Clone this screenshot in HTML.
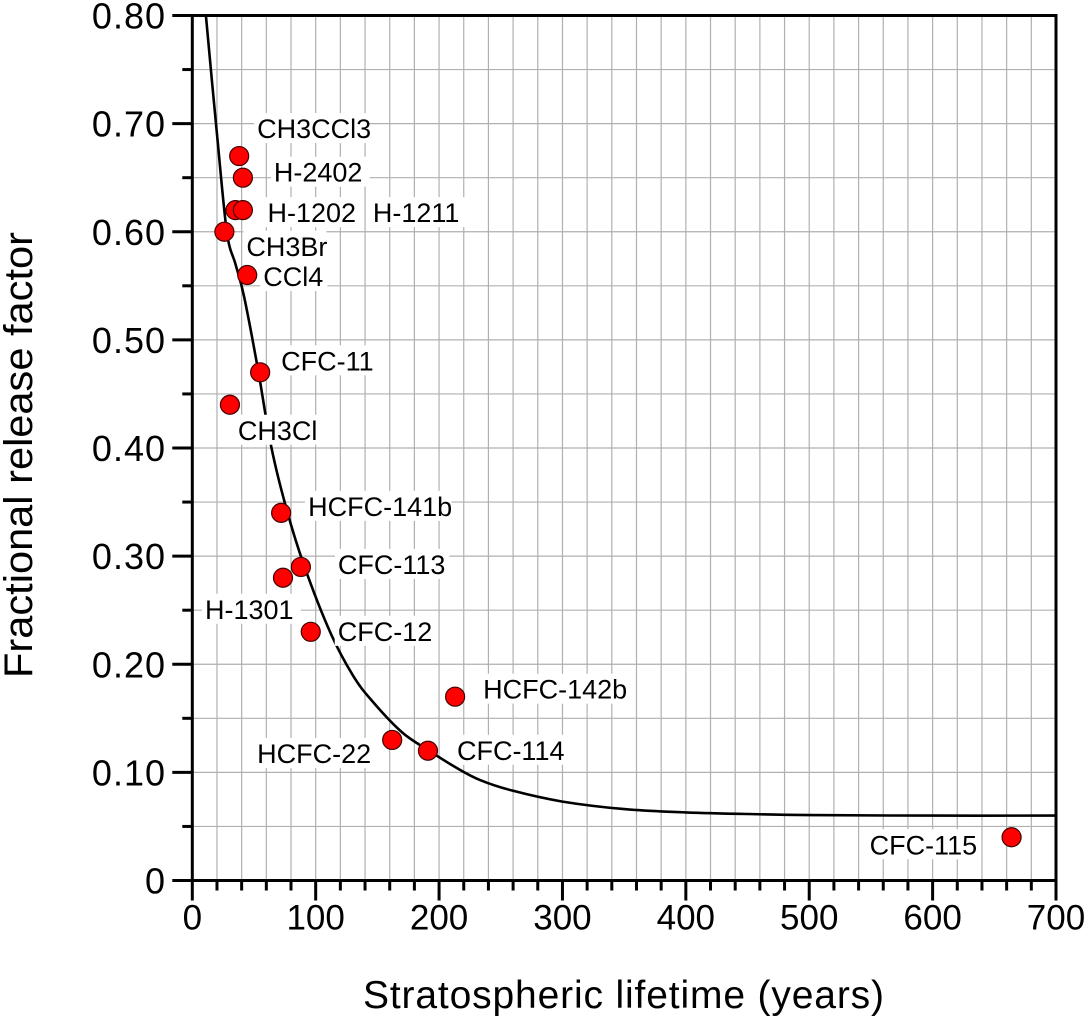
<!DOCTYPE html>
<html><head><meta charset="utf-8">
<style>
html,body{margin:0;padding:0;background:#fff;}
svg text{font-family:"Liberation Sans",Arial,sans-serif;}
</style></head>
<body>
<svg id="chart" width="1088" height="1016" viewBox="0 0 1088 1016" xmlns="http://www.w3.org/2000/svg">
<g id="grid"></g>
<g id="curve"></g>
<g id="points"></g>
<g id="labels"></g>
<g id="axes"></g>
<text x="363" y="1008" font-size="39" textLength="521" lengthAdjust="spacing">Stratospheric lifetime (years)</text>
<text transform="translate(32,678) rotate(-90)" font-size="40" textLength="446" lengthAdjust="spacingAndGlyphs">Fractional release factor</text>
</svg>
<script>
const names = ["CH3CCl3","H-2402","H-1202","H-1211","CH3Br","CCl4","CFC-11","CH3Cl","HCFC-141b","CFC-113","H-1301","CFC-12","HCFC-142b","HCFC-22","CFC-114","CFC-115"];
const lifetimes = [38,41,35,41,26,44.5,55,30.5,72,88,73.5,96,213,162,191,664];
const releaseFactors = [0.67,0.65,0.62,0.62,0.60,0.56,0.47,0.44,0.34,0.29,0.28,0.23,0.17,0.13,0.12,0.04];
const curveX = [11,20,28,35,42,53.5,64,76.5,91,112,130,145,170,192,213,233,260,300,350,400,450,500,600,700];
const curveY = [0.80,0.69,0.60,0.57,0.54,0.471,0.401,0.343,0.29,0.229,0.19,0.167,0.137,0.12,0.105,0.093,0.083,0.073,0.066,0.063,0.0615,0.0605,0.06,0.06];
const xTicks = [0,100,200,300,400,500,600,700];
const yTicks = [0,0.1,0.2,0.3,0.4,0.5,0.6,0.7,0.8];
const yTickLabels = ["0","0.10","0.20","0.30","0.40","0.50","0.60","0.70","0.80"];
const labelDx = [18,31,32,130,22,16,21,8,27,37,-78,27,28,-135,29,-142];
const labelDy = [-28,-6,2,2,14,1,-12,25,-7,-3,31,-1,-8,13,-1,7];

const NS="http://www.w3.org/2000/svg";
const X0=192.3,X1=1056,Y0=880.5,Y1=15.5,XMAX=700,YMAX=0.8;
function sx(v){return X0+(X1-X0)*v/XMAX;}
function sy(v){return Y0-(Y0-Y1)*v/YMAX;}
function mk(tag,attrs,parent){const e=document.createElementNS(NS,tag);for(const k in attrs)e.setAttribute(k,attrs[k]);parent.appendChild(e);return e;}

const grid=document.getElementById('grid');
for(let v=20;v<XMAX;v+=20){
  const l=mk('line',{x1:sx(v),x2:sx(v),y1:Y1,y2:Y0,stroke:'#b0b0b0','stroke-width':1.2},grid);
  
  
}
for(let i=1;i<16;i++){
  const v=i*0.05;
  const l=mk('line',{x1:X0,x2:X1,y1:sy(v),y2:sy(v),stroke:'#b0b0b0','stroke-width':1.2},grid);
  
  
}

const cg=document.getElementById('curve');
const P=curveX.map((x,i)=>[sx(x),sy(curveY[i])]);
let d='M'+P[0][0].toFixed(1)+','+P[0][1].toFixed(1);
for(let i=0;i<P.length-1;i++){
  const p0=P[Math.max(0,i-1)],p1=P[i],p2=P[i+1],p3=P[Math.min(P.length-1,i+2)];
  const c1=[p1[0]+(p2[0]-p0[0])/6,p1[1]+(p2[1]-p0[1])/6];
  const c2=[p2[0]-(p3[0]-p1[0])/6,p2[1]-(p3[1]-p1[1])/6];
  d+='C'+c1[0].toFixed(1)+','+c1[1].toFixed(1)+' '+c2[0].toFixed(1)+','+c2[1].toFixed(1)+' '+p2[0].toFixed(1)+','+p2[1].toFixed(1);
}
const cp=mk('path',{d:d,fill:'none',stroke:'#000','stroke-width':2.6,'stroke-linejoin':'round'},cg);



const pg=document.getElementById('points');
const lg=document.getElementById('labels');
for(let i=0;i<names.length;i++){
  const cx=sx(lifetimes[i]),cy=sy(releaseFactors[i]);
  const c=mk('circle',{cx:cx,cy:cy,r:9.5,fill:'#ff0000',stroke:'#400','stroke-width':1.2},pg);
  
  
}
for(let i=0;i<names.length;i++){
  const cx=sx(lifetimes[i]),cy=sy(releaseFactors[i]);
  const tx=cx+labelDx[i],ty=cy+labelDy[i];
  const w=names[i].length*15.8+4;
  const r=mk('rect',{x:tx-3,y:ty-15,width:w,height:30,fill:'#fff'},lg);
  
  
  const t=mk('text',{x:tx,y:ty+10,'font-size':27},lg);
  t.textContent=names[i];
  
  
}

const ax=document.getElementById('axes');
const fr=mk('rect',{x:X0,y:Y1,width:X1-X0,height:Y0-Y1,fill:'none',stroke:'#000','stroke-width':3},ax);


for(let v=0;v<=XMAX;v+=20){
  const major=v%100===0;
  const t=mk('line',{x1:sx(v),x2:sx(v),y1:Y0,y2:Y0+(major?20:10),stroke:'#000','stroke-width':3},ax);
  
  
}
for(let i=0;i<=16;i++){
  const v=i*0.05,major=i%2===0;
  const t=mk('line',{x1:X0-(major?20:10),x2:X0,y1:sy(v),y2:sy(v),stroke:'#000','stroke-width':3},ax);
  
  
}
xTicks.forEach(v=>{
  const t=mk('text',{x:sx(v),y:Y0+49,'font-size':35,'text-anchor':'middle'},ax);
  t.textContent=String(v);
  
  
});
yTicks.forEach((v,i)=>{
  const t=mk('text',{x:166,y:sy(v)+13,'font-size':36,'text-anchor':'end','letter-spacing':'1'},ax);
  t.textContent=yTickLabels[i];
  
  
});
</script>
</body></html>
